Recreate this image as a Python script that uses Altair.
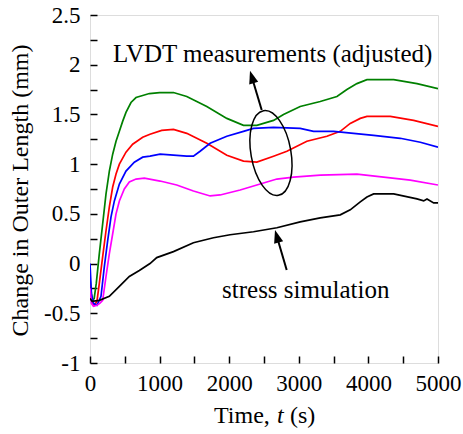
import altair as alt
import pandas as pd

# ---------------- data ----------------
t_green = [0, 30, 60, 90, 134, 182, 230, 278, 326, 374, 422, 469, 517, 589, 661, 757, 853, 1000, 1199,
           1390, 1678, 1966, 2205, 2397, 2637, 2780, 3020, 3308, 3548, 3691, 3835, 3979, 4363, 4698, 5000]
v_green = [-0.15, -0.38, -0.35, -0.2, 0.10, 0.40, 0.70, 0.93, 1.10, 1.23, 1.33, 1.43, 1.52, 1.62, 1.67, 1.69,
           1.71, 1.72, 1.72, 1.68, 1.58, 1.46, 1.39, 1.39, 1.44, 1.50, 1.58, 1.63, 1.68, 1.75, 1.81, 1.85,
           1.85, 1.81, 1.76]

t_red = [0, 30, 60, 100, 134, 182, 230, 278, 326, 374, 422, 517, 613, 757, 862, 1030, 1199, 1390, 1678,
         1966, 2205, 2397, 2637, 2829, 3116, 3404, 3596, 3739, 3883, 3979, 4315, 4650, 5000]
v_red = [-0.2, -0.4, -0.42, -0.38, -0.2, 0.07, 0.33, 0.57, 0.77, 0.90, 1.0, 1.12, 1.20, 1.27, 1.30, 1.34,
         1.35, 1.31, 1.21, 1.09, 1.03, 1.02, 1.08, 1.13, 1.23, 1.28, 1.33, 1.41, 1.46, 1.48, 1.48, 1.44, 1.38]

t_blue = [0, 20, 50, 100, 158, 206, 254, 302, 350, 422, 517, 637, 757, 862, 1007, 1199, 1390, 1486, 1582,
          1726, 1966, 2205, 2349, 2637, 3020, 3212, 3500, 3787, 4075, 4458, 4746, 5000]
v_blue = [0.0, -0.3, -0.4, -0.42, -0.33, -0.03, 0.23, 0.47, 0.63, 0.80, 0.93, 1.02, 1.07, 1.08, 1.10, 1.09,
          1.08, 1.08, 1.13, 1.21, 1.28, 1.33, 1.36, 1.37, 1.36, 1.33, 1.33, 1.31, 1.29, 1.26, 1.22, 1.17]

t_magenta = [0, 20, 50, 100, 140, 182, 230, 278, 326, 374, 422, 493, 565, 661, 781, 1007, 1246, 1486, 1726,
             1870, 2157, 2493, 2685, 2924, 3308, 3835, 4219, 4602, 5000]
v_magenta = [-0.25, -0.4, -0.43, -0.42, -0.40, -0.37, -0.13, 0.10, 0.30, 0.50, 0.63, 0.75, 0.82, 0.85, 0.86,
             0.83, 0.79, 0.73, 0.68, 0.69, 0.74, 0.81, 0.85, 0.87, 0.89, 0.90, 0.87, 0.84, 0.79]

t_black = [0, 30, 134, 278, 422, 565, 709, 862, 959, 1199, 1486, 1774, 2013, 2349, 2685, 3020, 3308, 3596,
           3739, 3883, 3979, 4075, 4363, 4698, 4794, 4842, 4938, 5000]
v_black = [-0.35, -0.38, -0.37, -0.33, -0.23, -0.13, -0.07, 0.0, 0.06, 0.12, 0.21, 0.26, 0.29, 0.32, 0.36,
           0.42, 0.46, 0.49, 0.54, 0.62, 0.67, 0.70, 0.70, 0.65, 0.63, 0.65, 0.61, 0.61]

series_names = ["green", "red", "blue", "magenta", "black"]
series_colors = ["#008000", "#ff0000", "#0000ff", "#ff00ff", "#000000"]

x_ticks = [0, 500, 1000, 1500, 2000, 2500, 3000, 3500, 4000, 4500, 5000]
x_labels = [0, 1000, 2000, 3000, 4000, 5000]
y_ticks = [-1, -0.75, -0.5, -0.25, 0, 0.25, 0.5, 0.75, 1, 1.25, 1.5, 1.75, 2, 2.25, 2.5]
y_labels = [-1, -0.5, 0, 0.5, 1, 1.5, 2, 2.5]

# annotations (data coordinates)
ann_text = ["LVDT measurements (adjusted)", "stress simulation"]
ann_t = [330, 1897]
ann_v = [2.024, -0.344]

ell_t = [2600]
ell_v = [1.112]

arrow_tail_t = [2467, 2826]
arrow_tail_v = [1.544, -0.065]
arrow_tip_t = [2299, 2658]
arrow_tip_v = [1.940, 0.337]
arrow_mid_t = [2325, 2684]
arrow_mid_v = [1.877, 0.275]

# ---------------- build ----------------
W, H = 348, 348
FONT = "Liberation Serif, Times New Roman, Times, serif"

rows = []
for name, ts, vs in [("green", t_green, v_green), ("red", t_red, v_red), ("blue", t_blue, v_blue),
                     ("magenta", t_magenta, v_magenta), ("black", t_black, v_black)]:
    for i, (t, v) in enumerate(zip(ts, vs)):
        rows.append({"series": name, "t": t, "v": v, "i": i})
df = pd.DataFrame(rows)

xscale = alt.Scale(domain=[0, 5000], nice=False, zero=False)
yscale = alt.Scale(domain=[-1, 2.5], nice=False, zero=False)

lines = alt.Chart(df).mark_line(strokeWidth=1.7, clip=True).encode(
    x=alt.X("t:Q", scale=xscale,
            axis=alt.Axis(values=x_labels, format="d", ticks=False, tickSize=0, domain=False, grid=False,
                          labelPadding=9, labelFontSize=23, labelFont=FONT, labelColor="black",
                          labelFlush=False, labelOverlap=False, labelBound=False,
                          title=None, orient="bottom")),
    y=alt.Y("v:Q", scale=yscale,
            axis=alt.Axis(values=y_labels, labelExpr="toString(datum.value)", ticks=False, tickSize=0,
                          domain=False, grid=False, labelPadding=10, labelFontSize=23, labelFont=FONT,
                          labelColor="black", labelFlush=False, labelOverlap=False, labelBound=False,
                          title="Change in Outer Length (mm)", titleFont=FONT,
                          titleFontSize=24, titleFontWeight="normal", titleColor="black",
                          titleAngle=270, titleBaseline="alphabetic", titleAlign="center",
                          titleX=-63, titleY=175, orient="left")),
    color=alt.Color("series:N", scale=alt.Scale(domain=series_names, range=series_colors), legend=None),
    detail="series:N",
    order="i:Q",
)

# inward tick marks via axes placed on the opposite edges
tick_axes = alt.Chart(df).mark_point(opacity=0).encode(
    x=alt.X("t:Q", scale=xscale,
            axis=alt.Axis(values=x_ticks, orient="top", offset=-H, labels=False, domain=False, grid=False,
                          ticks=True, tickSize=7, tickWidth=1.5, tickColor="black", title=None)),
    y=alt.Y("v:Q", scale=yscale,
            axis=alt.Axis(values=y_ticks, orient="right", offset=-W, labels=False, domain=False, grid=False,
                          ticks=True, tickSize=7, tickWidth=1.5, tickColor="black", title=None)),
)

ann_df = pd.DataFrame({"label": ann_text, "t": ann_t, "v": ann_v})
ann = alt.Chart(ann_df).mark_text(align="left", baseline="alphabetic", font=FONT, fontSize=25,
                                  color="black").encode(
    x=alt.X("t:Q", scale=xscale, axis=None),
    y=alt.Y("v:Q", scale=yscale, axis=None),
    text="label:N",
)

ell_df = pd.DataFrame({"t": ell_t, "v": ell_v})
ellipse = alt.Chart(ell_df).mark_point(
    shape="M 0 -1 A 0.465 1 0 1 1 0 1 A 0.465 1 0 1 1 0 -1 Z",
    size=7396, filled=False, stroke="black", strokeWidth=1.5, opacity=1, angle=350,
).encode(
    x=alt.X("t:Q", scale=xscale, axis=None),
    y=alt.Y("v:Q", scale=yscale, axis=None),
)

arr_df = pd.DataFrame({"t": arrow_tail_t, "v": arrow_tail_v, "t2": arrow_mid_t, "v2": arrow_mid_v,
                       "tt": arrow_tip_t, "vt": arrow_tip_v, "ang": [343.4, 343.7]})
shafts = alt.Chart(arr_df).mark_rule(strokeWidth=2, color="black").encode(
    x=alt.X("t:Q", scale=xscale, axis=None),
    y=alt.Y("v:Q", scale=yscale, axis=None),
    x2="t2:Q", y2="v2:Q",
)
heads = alt.Chart(arr_df).mark_point(
    shape="M 0 0 L 0.72 2 L -0.72 2 Z", size=169, filled=True, opacity=1, color="black", strokeWidth=0,
).encode(
    x=alt.X("tt:Q", scale=xscale, axis=None),
    y=alt.Y("vt:Q", scale=yscale, axis=None),
    angle=alt.Angle("ang:Q", scale=None),
)

title_df = pd.DataFrame({"label": ["Time,", "t", "(s)"], "px": [124, 187, 200],
                         "st": ["normal", "italic", "normal"]})
xtitle_a = alt.Chart(title_df[title_df["st"] == "normal"]).mark_text(
    align="left", baseline="alphabetic", font=FONT, fontSize=24, color="black"
).encode(x=alt.X("px:Q", scale=None, axis=None), y=alt.value(408), text="label:N")
xtitle_b = alt.Chart(title_df[title_df["st"] == "italic"]).mark_text(
    align="left", baseline="alphabetic", font=FONT, fontSize=24, fontStyle="italic", color="black"
).encode(x=alt.X("px:Q", scale=None, axis=None), y=alt.value(408), text="label:N")

chart = alt.layer(lines, tick_axes, ellipse, shafts, heads, ann, xtitle_a, xtitle_b).resolve_axis(
    x="independent", y="independent"
).properties(
    width=W, height=H,
    autosize=alt.AutoSizeParams(type="none"),
    padding={"left": 90, "top": 15, "right": 25, "bottom": 71},
).configure_view(
    stroke="black", strokeWidth=1.6
).configure_axis(
    labelFont=FONT, titleFont=FONT
).configure_text(
    font=FONT
).configure(
    background="white", font=FONT
)

chart.save("out.html", embed_options={"renderer": "svg", "actions": False})
